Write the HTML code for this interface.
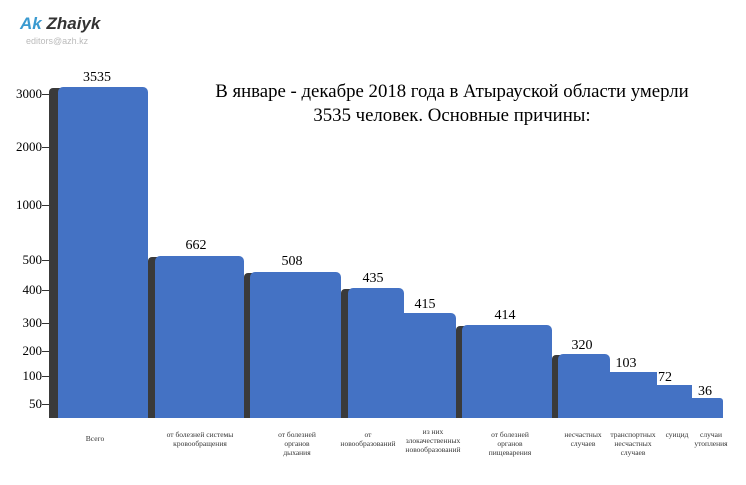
<!DOCTYPE html>
<html><head><meta charset="utf-8"><style>
body{margin:0;background:#fff;width:746px;height:485px;overflow:hidden;position:relative;font-family:"Liberation Serif",serif}
.a{position:absolute}
.b{position:absolute;background:#4472c4;border-radius:5px 5px 0 0}
.d{position:absolute;background:#3a3a3a;border-radius:4px 0 0 0}
.y{position:absolute;right:704px;font-size:13px;text-align:right;line-height:14px}
.t{position:absolute;width:8px;height:1px;background:#333;left:42px}
.v{position:absolute;font-size:14px;transform:translateX(-50%);line-height:14px}
.c{position:absolute;font-size:7.5px;line-height:9px;text-align:center;transform:translateX(-50%);color:#333}
</style></head><body>
<div class="a" style="left:20px;top:14px;font:bold italic 17px 'Liberation Sans',sans-serif"><span style="color:#3a9ad0">Ak</span> <span style="color:#333">Zhaiyk</span></div>
<div class="a" style="left:26px;top:36px;font:9px 'Liberation Sans',sans-serif;color:#bbb">editors@azh.kz</div>
<div class="a" style="left:152px;top:80px;width:600px;text-align:center;font-size:18.8px;line-height:24px">В январе - декабре 2018 года в Атырауской области умерли<br>3535 человек. Основные причины:</div>

<div class="y" style="top:87px">3000</div><div class="t" style="top:94px"></div>
<div class="y" style="top:140px">2000</div><div class="t" style="top:147px"></div>
<div class="y" style="top:198px">1000</div><div class="t" style="top:205px"></div>
<div class="y" style="top:253px">500</div><div class="t" style="top:260px"></div>
<div class="y" style="top:283px">400</div><div class="t" style="top:290px"></div>
<div class="y" style="top:316px">300</div><div class="t" style="top:323px"></div>
<div class="y" style="top:344px">200</div><div class="t" style="top:351px"></div>
<div class="y" style="top:369px">100</div><div class="t" style="top:376px"></div>
<div class="y" style="top:397px">50</div><div class="t" style="top:404px"></div>

<div class="d" style="left:49px;top:88px;width:12px;height:330px"></div>
<div class="b" style="left:58px;top:87px;width:90px;height:331px"></div>
<div class="d" style="left:148px;top:257px;width:10px;height:161px"></div>
<div class="b" style="left:155px;top:256px;width:89px;height:162px"></div>
<div class="d" style="left:244px;top:273px;width:10px;height:145px"></div>
<div class="b" style="left:250px;top:272px;width:91px;height:146px"></div>
<div class="d" style="left:341px;top:289px;width:10px;height:129px"></div>
<div class="b" style="left:348px;top:288px;width:56px;height:130px"></div>
<div class="b" style="left:402px;top:313px;width:54px;height:105px;border-radius:0 5px 0 0"></div>
<div class="d" style="left:456px;top:326px;width:10px;height:92px"></div>
<div class="b" style="left:462px;top:325px;width:90px;height:93px"></div>
<div class="d" style="left:552px;top:355px;width:10px;height:63px"></div>
<div class="b" style="left:558px;top:354px;width:52px;height:64px"></div>
<div class="b" style="left:608px;top:372px;width:49px;height:46px;border-radius:0"></div>
<div class="b" style="left:655px;top:385px;width:37px;height:33px;border-radius:0"></div>
<div class="b" style="left:690px;top:398px;width:33px;height:20px;border-radius:0 3px 0 0"></div>

<div class="v" style="left:97px;top:71px">3535</div>
<div class="v" style="left:196px;top:239px">662</div>
<div class="v" style="left:292px;top:255px">508</div>
<div class="v" style="left:373px;top:272px">435</div>
<div class="v" style="left:425px;top:298px">415</div>
<div class="v" style="left:505px;top:309px">414</div>
<div class="v" style="left:582px;top:339px">320</div>
<div class="v" style="left:626px;top:357px">103</div>
<div class="v" style="left:665px;top:371px">72</div>
<div class="v" style="left:705px;top:385px">36</div>

<div class="c" style="left:95px;top:434px">Всего</div>
<div class="c" style="left:200px;top:430px">от болезней системы<br>кровообращения</div>
<div class="c" style="left:297px;top:430px">от болезней<br>органов<br>дыхания</div>
<div class="c" style="left:368px;top:430px">от<br>новообразований</div>
<div class="c" style="left:433px;top:427px">из них<br>злокачественных<br>новообразований</div>
<div class="c" style="left:510px;top:430px">от болезней<br>органов<br>пищеварения</div>
<div class="c" style="left:583px;top:430px">несчастных<br>случаев</div>
<div class="c" style="left:633px;top:430px">транспортных<br>несчастных<br>случаев</div>
<div class="c" style="left:677px;top:430px">суицид</div>
<div class="c" style="left:711px;top:430px">случаи<br>утопления</div>
</body></html>
